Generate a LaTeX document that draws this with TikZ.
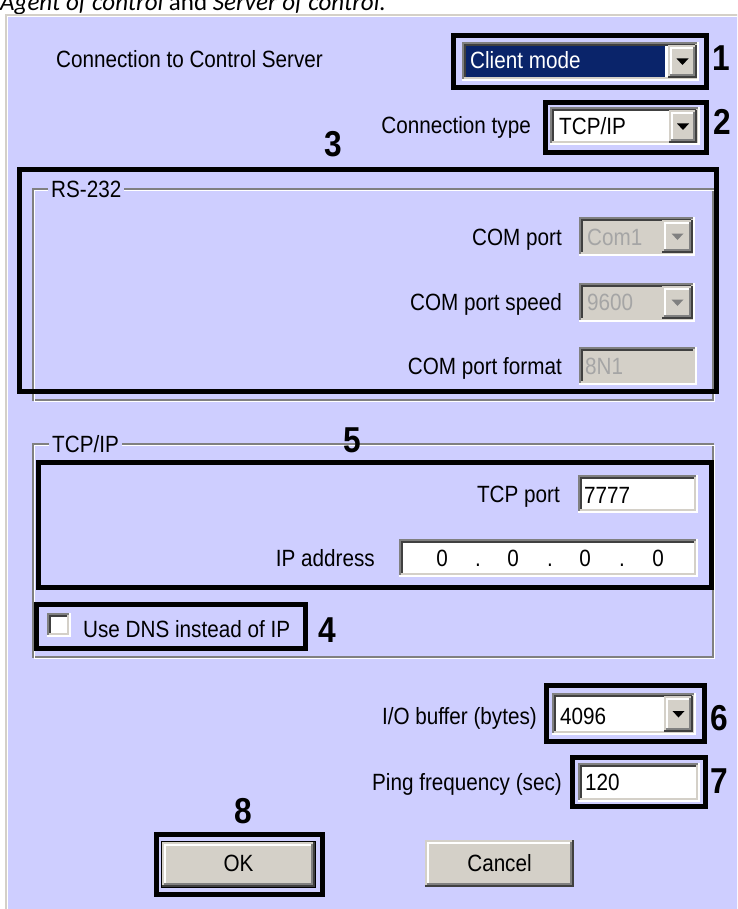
\documentclass[tikz,border=0pt]{standalone}
\usepackage{fontspec}
\setmainfont{Liberation Sans}[FakeStretch=0.88]
\newfontfamily\capfont{Carlito}
\definecolor{lav}{RGB}{206,206,255}
\definecolor{btnface}{RGB}{212,208,200}
\definecolor{dkgray}{RGB}{64,64,64}
\definecolor{mgray}{RGB}{128,128,128}
\definecolor{selblue}{RGB}{10,36,106}
\definecolor{distext}{RGB}{165,165,165}
\newcommand\uisunk[5]{%
  \fill[#5] (#1,#2) rectangle (#3,#4);
  \draw[mgray,line width=2pt] (#1+1,#4) -- (#1+1,#2+1) -- (#3,#2+1);
  \draw[dkgray,line width=2pt] (#1+3,#4-2) -- (#1+3,#2+3) -- (#3-2,#2+3);
  \draw[white,line width=2pt] (#1,#4-1) -- (#3-1,#4-1) -- (#3-1,#2);
  \draw[btnface,line width=2pt] (#1+2,#4-3) -- (#3-3,#4-3) -- (#3-3,#2+2);
}
\newcommand\uiraise[4]{%
  \fill[btnface] (#1,#2) rectangle (#3,#4);
  \draw[white,line width=2pt] (#1+3,#4-3) -- (#1+3,#2+3) -- (#3-3,#2+3);
  \draw[dkgray,line width=2pt] (#1,#4-1) -- (#3-1,#4-1) -- (#3-1,#2);
  \draw[mgray,line width=2pt] (#1+2,#4-3) -- (#3-3,#4-3) -- (#3-3,#2+2);
}
\newcommand\uitri[3]{\fill[#3] (#1-6,#2-3) -- (#1+6,#2-3) -- (#1,#2+3.5) -- cycle;}
\tikzset{
  ui/.style={font=\fontsize{23.5}{27}\selectfont, inner sep=0pt, text=black},
  num/.style={font=\fontsize{36}{40}\selectfont\bfseries, inner sep=0pt, anchor=base, text=black},
  hl/.style={draw=black, line width=5pt},
  grp/.style={fill=lav, inner xsep=3pt, inner ysep=0pt, anchor=base west, font=\fontsize{23.5}{27}\selectfont}
}
\begin{document}
\begin{tikzpicture}[x=1pt,y=-1pt]
\useasboundingbox (0,0) rectangle (737,909);
\clip (0,0) rectangle (737,909);
\fill[white] (0,0) rectangle (737,909);
% caption
\node[anchor=base west, inner sep=0pt, font=\capfont\fontsize{25}{29}\selectfont] (cap) at (0,10.5)
  {\itshape Agent of control\upshape{} and \itshape Server of control.};
% window
\fill[lav] (5,14) rectangle (742,914);
\draw[btnface,line width=2pt] (6,914) -- (6,15) -- (742,15);
\draw[white,line width=1pt] (7.5,914) -- (7.5,16.5) -- (742,16.5);

% row 1
\node[ui, anchor=base west] (lconn) at (56,68) {Connection to Control Server};
\uisunk{462}{42}{699}{81}{white}
\fill[selblue] (466,46) rectangle (665,77);
\node[ui, anchor=base west, text=white] (vconn) at (470,69) {Client mode};
\uiraise{668}{45}{697}{78}
\uitri{682.5}{61.5}{black}
\draw[hl] (453.5,35.5) rectangle (706,88);
\node[num] (n1) at (721,71) {1};

% row 2
\node[ui, anchor=base east] (ltype) at (531,134) {Connection type};
\uisunk{550}{107}{700}{145}{white}
\node[ui, anchor=base west] (vtype) at (559,135) {TCP/IP};
\uiraise{669}{110}{697}{143}
\uitri{683}{126.5}{black}
\draw[hl] (545,102.5) rectangle (706,153);
\node[num] (n2) at (722,135) {2};

% RS-232 group
\node[num] (n3) at (333,157) {3};
\draw[mgray,line width=1.2pt] (33,189) rectangle (713,400);
\draw[white,line width=1.2pt] (34.5,190.5) rectangle (714.5,401.5);
\node[grp] (grs) at (48,198) {RS-232};
\node[ui, anchor=base east] (lcom) at (562,245) {COM port};
\uisunk{579}{217}{695}{256}{btnface}
\node[ui, anchor=base west, text=distext] (vcom) at (587,245) {Com1};
\uiraise{662}{220}{693}{253}
\uitri{677.5}{236.5}{mgray}
\node[ui, anchor=base east] (lspd) at (562,310) {COM port speed};
\uisunk{579}{283}{695}{322}{btnface}
\node[ui, anchor=base west, text=distext] (vspd) at (587,310) {9600};
\uiraise{662}{286}{693}{319}
\uitri{677.5}{302.5}{mgray}
\node[ui, anchor=base east] (lfmt) at (562,374) {COM port format};
\uisunk{579}{347}{697}{385}{btnface}
\node[ui, anchor=base west, text=distext] (vfmt) at (585,374) {8N1};
\draw[hl] (19,169.5) rectangle (716,391.5);

% TCP/IP group
\draw[mgray,line width=1.2pt] (33,444) rectangle (713,657);
\draw[white,line width=1.2pt] (34.5,445.5) rectangle (714.5,658.5);
\node[grp] (gtcp) at (49,452) {TCP/IP};
\node[num] (n5) at (352,452) {5};
\node[ui, anchor=base east] (lport) at (560,502) {TCP port};
\uisunk{578}{475}{698}{513}{white}
\node[ui, anchor=base west] (vport) at (584,503) {7777};
\node[ui, anchor=base east] (lip) at (375,566) {IP address};
\uisunk{399}{539}{698}{577}{white}
\foreach \px/\nm in {442/ipa,513/ipb,585/ipc,658/ipd} \node[ui, anchor=base] (\nm) at (\px,566) {0};
\foreach \px/\nm in {478/dta,550/dtb,622/dtc} \node[ui, anchor=base] (\nm) at (\px,566) {.};
\draw[hl] (38.5,462.5) rectangle (711.5,587.5);
\uisunk{47}{613}{71}{637}{white}
\node[ui, anchor=base west] (ldns) at (83,637) {Use DNS instead of IP};
\draw[hl] (36.5,604) rectangle (305.5,648);
\node[num] (n4) at (327,642) {4};

% I/O buffer
\node[ui, anchor=base east] (lbuf) at (537,724) {I/O buffer (bytes)};
\uisunk{552}{693}{696}{735}{white}
\node[ui, anchor=base west] (vbuf) at (560,724) {4096};
\uiraise{664}{696}{693}{732}
\uitri{678.5}{714}{black}
\draw[hl] (546.5,685.5) rectangle (704.5,741);
\node[num] (n6) at (719,730) {6};

% ping
\node[ui, anchor=base east] (lping) at (562,790) {Ping frequency (sec)};
\uisunk{578}{763}{700}{802}{white}
\node[ui, anchor=base west] (vping) at (585,790) {120};
\draw[hl] (572.5,757) rectangle (705.5,806.5);
\node[num] (n7) at (719,793) {7};

% buttons
\node[num] (n8) at (243,823) {8};
\draw[black,line width=1pt] (161.5,841.5) rectangle (315.5,887.5);
\uiraise{162}{842}{315}{887}
\node[ui, anchor=base] (bok) at (238.5,871) {OK};
\draw[hl] (156.5,834.5) rectangle (322,894);
\uiraise{425}{840}{574}{887}
\node[ui, anchor=base] (bcancel) at (499.5,871) {Cancel};
\end{tikzpicture}
\end{document}
